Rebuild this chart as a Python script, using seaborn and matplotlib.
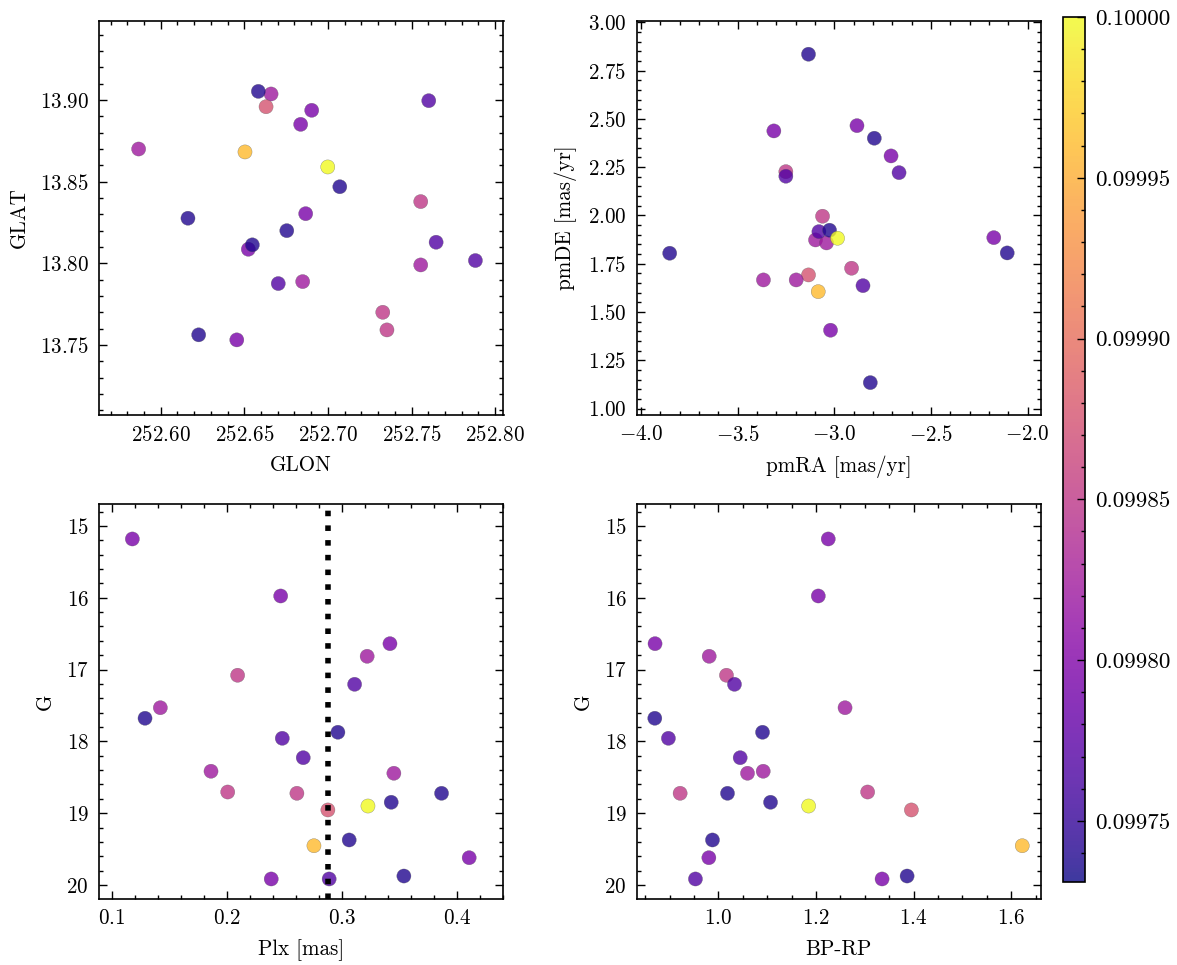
import numpy as np
import pandas as pd
import matplotlib
matplotlib.use("Agg")
import matplotlib.pyplot as plt
import seaborn as sns
from matplotlib.ticker import AutoMinorLocator, FormatStrFormatter
from matplotlib.colors import Normalize
from matplotlib.cm import ScalarMappable

# ---------------- data (one entry per star) ----------------
glon = [252.6455, 252.6163, 252.5868, 252.6660, 252.7328, 252.7353, 252.6524, 252.6837,
        252.6703, 252.7555, 252.7603, 252.6504, 252.6630, 252.7647, 252.6227, 252.6548,
        252.7882, 252.6849, 252.6999, 252.6867, 252.6584, 252.7555, 252.6754, 252.7071,
        252.6903]
glat = [13.7531, 13.8276, 13.8700, 13.9037, 13.7700, 13.7592, 13.8086, 13.8851,
        13.7876, 13.8378, 13.8996, 13.8682, 13.8959, 13.8129, 13.7562, 13.8113,
        13.8017, 13.7888, 13.8590, 13.8304, 13.9053, 13.7990, 13.8200, 13.8469,
        13.8937]
pmra = [-3.3124, -3.1332, -3.0969, -3.0399, -3.2503, -3.0606, -2.8824, -2.7062,
        -3.0793, -2.9104, -3.2503, -3.0829, -3.1332, -2.6648, -2.7927, -3.0244,
        -2.8513, -3.3663, -2.9829, -2.1746, -3.8513, -3.1969, -2.1052, -2.8135,
        -3.0192]
pmde = [2.4374, 2.8344, 1.8732, 1.8577, 2.2267, 1.9959, 2.4648, 2.3080,
        1.9162, 1.7267, 2.2029, 1.6056, 1.6920, 2.2215, 2.3996, 1.9234,
        1.6366, 1.6661, 1.8820, 1.8851, 1.8043, 1.6661, 1.8059, 1.1346,
        1.4058]
plx = [0.1181, 0.1291, 0.1424, 0.1864, 0.2009, 0.2095, 0.2387, 0.2469,
       0.2483, 0.2610, 0.2665, 0.2758, 0.2879, 0.2890, 0.2966, 0.3064,
       0.3111, 0.3220, 0.3227, 0.3418, 0.3429, 0.3452, 0.3539, 0.3866,
       0.4106]
gmag = [15.181, 17.678, 17.531, 18.416, 18.705, 17.079, 19.916, 15.975,
        17.957, 18.723, 18.227, 19.453, 18.955, 19.916, 17.873, 19.373,
        17.205, 16.815, 18.900, 16.639, 18.848, 18.444, 19.875, 18.723,
        19.620]
bprp = [1.2250, 0.8695, 1.2594, 1.0917, 1.3057, 1.0164, 1.3353, 1.2046,
        0.8974, 0.9214, 1.0445, 1.6226, 1.3954, 0.9528, 1.0903, 0.9877,
        1.0328, 0.9810, 1.1847, 0.8700, 1.1067, 1.0595, 1.3866, 1.0185,
        0.9803]
prob = [0.099795, 0.099739, 0.099822, 0.099822, 0.099850, 0.099850, 0.099795, 0.099795,
        0.099768, 0.099850, 0.099768, 0.099960, 0.099875, 0.099768, 0.099739, 0.099739,
        0.099768, 0.099822, 0.100000, 0.099795, 0.099739, 0.099822, 0.099739, 0.099739,
        0.099795]
plx_mean = 0.288

cbar_ticks = [0.09975, 0.09980, 0.09985, 0.09990, 0.09995, 0.10000]
vmin, vmax = 0.099731, 0.100000

df = pd.DataFrame({"GLON": glon, "GLAT": glat, "pmRA": pmra, "pmDE": pmde,
                   "Plx": plx, "G": gmag, "BPRP": bprp, "prob": prob})

# ---------------- style ----------------
plt.rcParams.update({
    "font.family": "serif",
    "font.serif": ["cmr10"],
    "mathtext.fontset": "cm",
    "axes.formatter.use_mathtext": True,
    "axes.unicode_minus": True,
    "font.size": 7.6,
    "axes.linewidth": 0.6,
    "xtick.direction": "in",
    "ytick.direction": "in",
    "xtick.top": True,
    "ytick.right": True,
    "xtick.major.size": 3,
    "ytick.major.size": 3,
    "xtick.minor.size": 1.5,
    "ytick.minor.size": 1.5,
    "xtick.major.width": 0.5,
    "ytick.major.width": 0.5,
    "xtick.minor.width": 0.5,
    "ytick.minor.width": 0.5,
    "xtick.minor.visible": True,
    "ytick.minor.visible": True,
    "xtick.labelsize": 7.6,
    "ytick.labelsize": 7.6,
    "axes.labelsize": 7.6,
})

W, H = 1177, 965
dpi = 200
fig = plt.figure(figsize=(W / dpi, H / dpi), dpi=dpi)


def box(l, r, t, b):
    return [l / W, 1 - b / H, (r - l) / W, (b - t) / H]


ax1 = fig.add_axes(box(98.5, 503.5, 20.5, 415))
ax2 = fig.add_axes(box(636.5, 1040.5, 20.5, 415))
ax3 = fig.add_axes(box(98.5, 503.5, 504, 899))
ax4 = fig.add_axes(box(636.5, 1040.5, 504, 899))
cax = fig.add_axes(box(1063, 1085, 17, 882))

kw = dict(data=df, hue="prob", palette="plasma", hue_norm=(vmin, vmax),
          s=26, alpha=0.8, edgecolor="0.35", linewidth=0.12, legend=False)

sns.scatterplot(x="GLON", y="GLAT", ax=ax1, **kw)
sns.scatterplot(x="pmRA", y="pmDE", ax=ax2, **kw)
sns.scatterplot(x="Plx", y="G", ax=ax3, **kw)
sns.scatterplot(x="BPRP", y="G", ax=ax4, **kw)
ax3.axvline(plx_mean, color="k", ls=":", lw=2)

ax1.set_xlim(252.5628, 252.805)
ax1.set_ylim(13.7071, 13.9487)
ax1.set_xticks([252.60, 252.65, 252.70, 252.75, 252.80])
ax1.set_yticks([13.75, 13.80, 13.85, 13.90])
ax1.xaxis.set_major_formatter(FormatStrFormatter(r"$\mathdefault{%.2f}$"))
ax1.yaxis.set_major_formatter(FormatStrFormatter(r"$\mathdefault{%.2f}$"))
ax1.set_xlabel("GLON")
ax1.set_ylabel("GLAT")

ax2.set_xlim(-4.023, -1.933)
ax2.set_ylim(0.967, 3.009)
ax2.set_xticks([-4.0, -3.5, -3.0, -2.5, -2.0])
ax2.set_yticks([1.00, 1.25, 1.50, 1.75, 2.00, 2.25, 2.50, 2.75, 3.00])
ax2.yaxis.set_major_formatter(FormatStrFormatter(r"$\mathdefault{%.2f}$"))
ax2.set_xlabel("pmRA [mas/yr]")
ax2.set_ylabel("pmDE [mas/yr]")

ax3.set_xlim(0.0887, 0.4404)
ax3.set_ylim(20.195, 14.694)
ax3.set_xticks([0.1, 0.2, 0.3, 0.4])
ax3.set_yticks([15, 16, 17, 18, 19, 20])
ax3.set_xlabel("Plx [mas]")
ax3.set_ylabel("G")

ax4.set_xlim(0.832, 1.660)
ax4.set_ylim(20.195, 14.694)
ax4.set_xticks([1.0, 1.2, 1.4, 1.6])
ax4.set_yticks([15, 16, 17, 18, 19, 20])
ax4.set_xlabel("BP-RP")
ax4.set_ylabel("G")

for ax in (ax1, ax2, ax3, ax4):
    ax.xaxis.set_minor_locator(AutoMinorLocator())
    ax.yaxis.set_minor_locator(AutoMinorLocator())

sm = ScalarMappable(norm=Normalize(vmin=vmin, vmax=vmax), cmap="plasma")
sm.set_array([])
cb = fig.colorbar(sm, cax=cax, alpha=0.8)
cb.set_ticks(cbar_ticks)
cb.ax.yaxis.set_major_formatter(FormatStrFormatter("%.5f"))
cb.ax.yaxis.set_minor_locator(AutoMinorLocator(5))
cb.ax.tick_params(which="both", direction="in", labelsize=8.3, left=False, right=True)
cb.outline.set_linewidth(0.6)

fig.savefig("out.png", dpi=dpi)
